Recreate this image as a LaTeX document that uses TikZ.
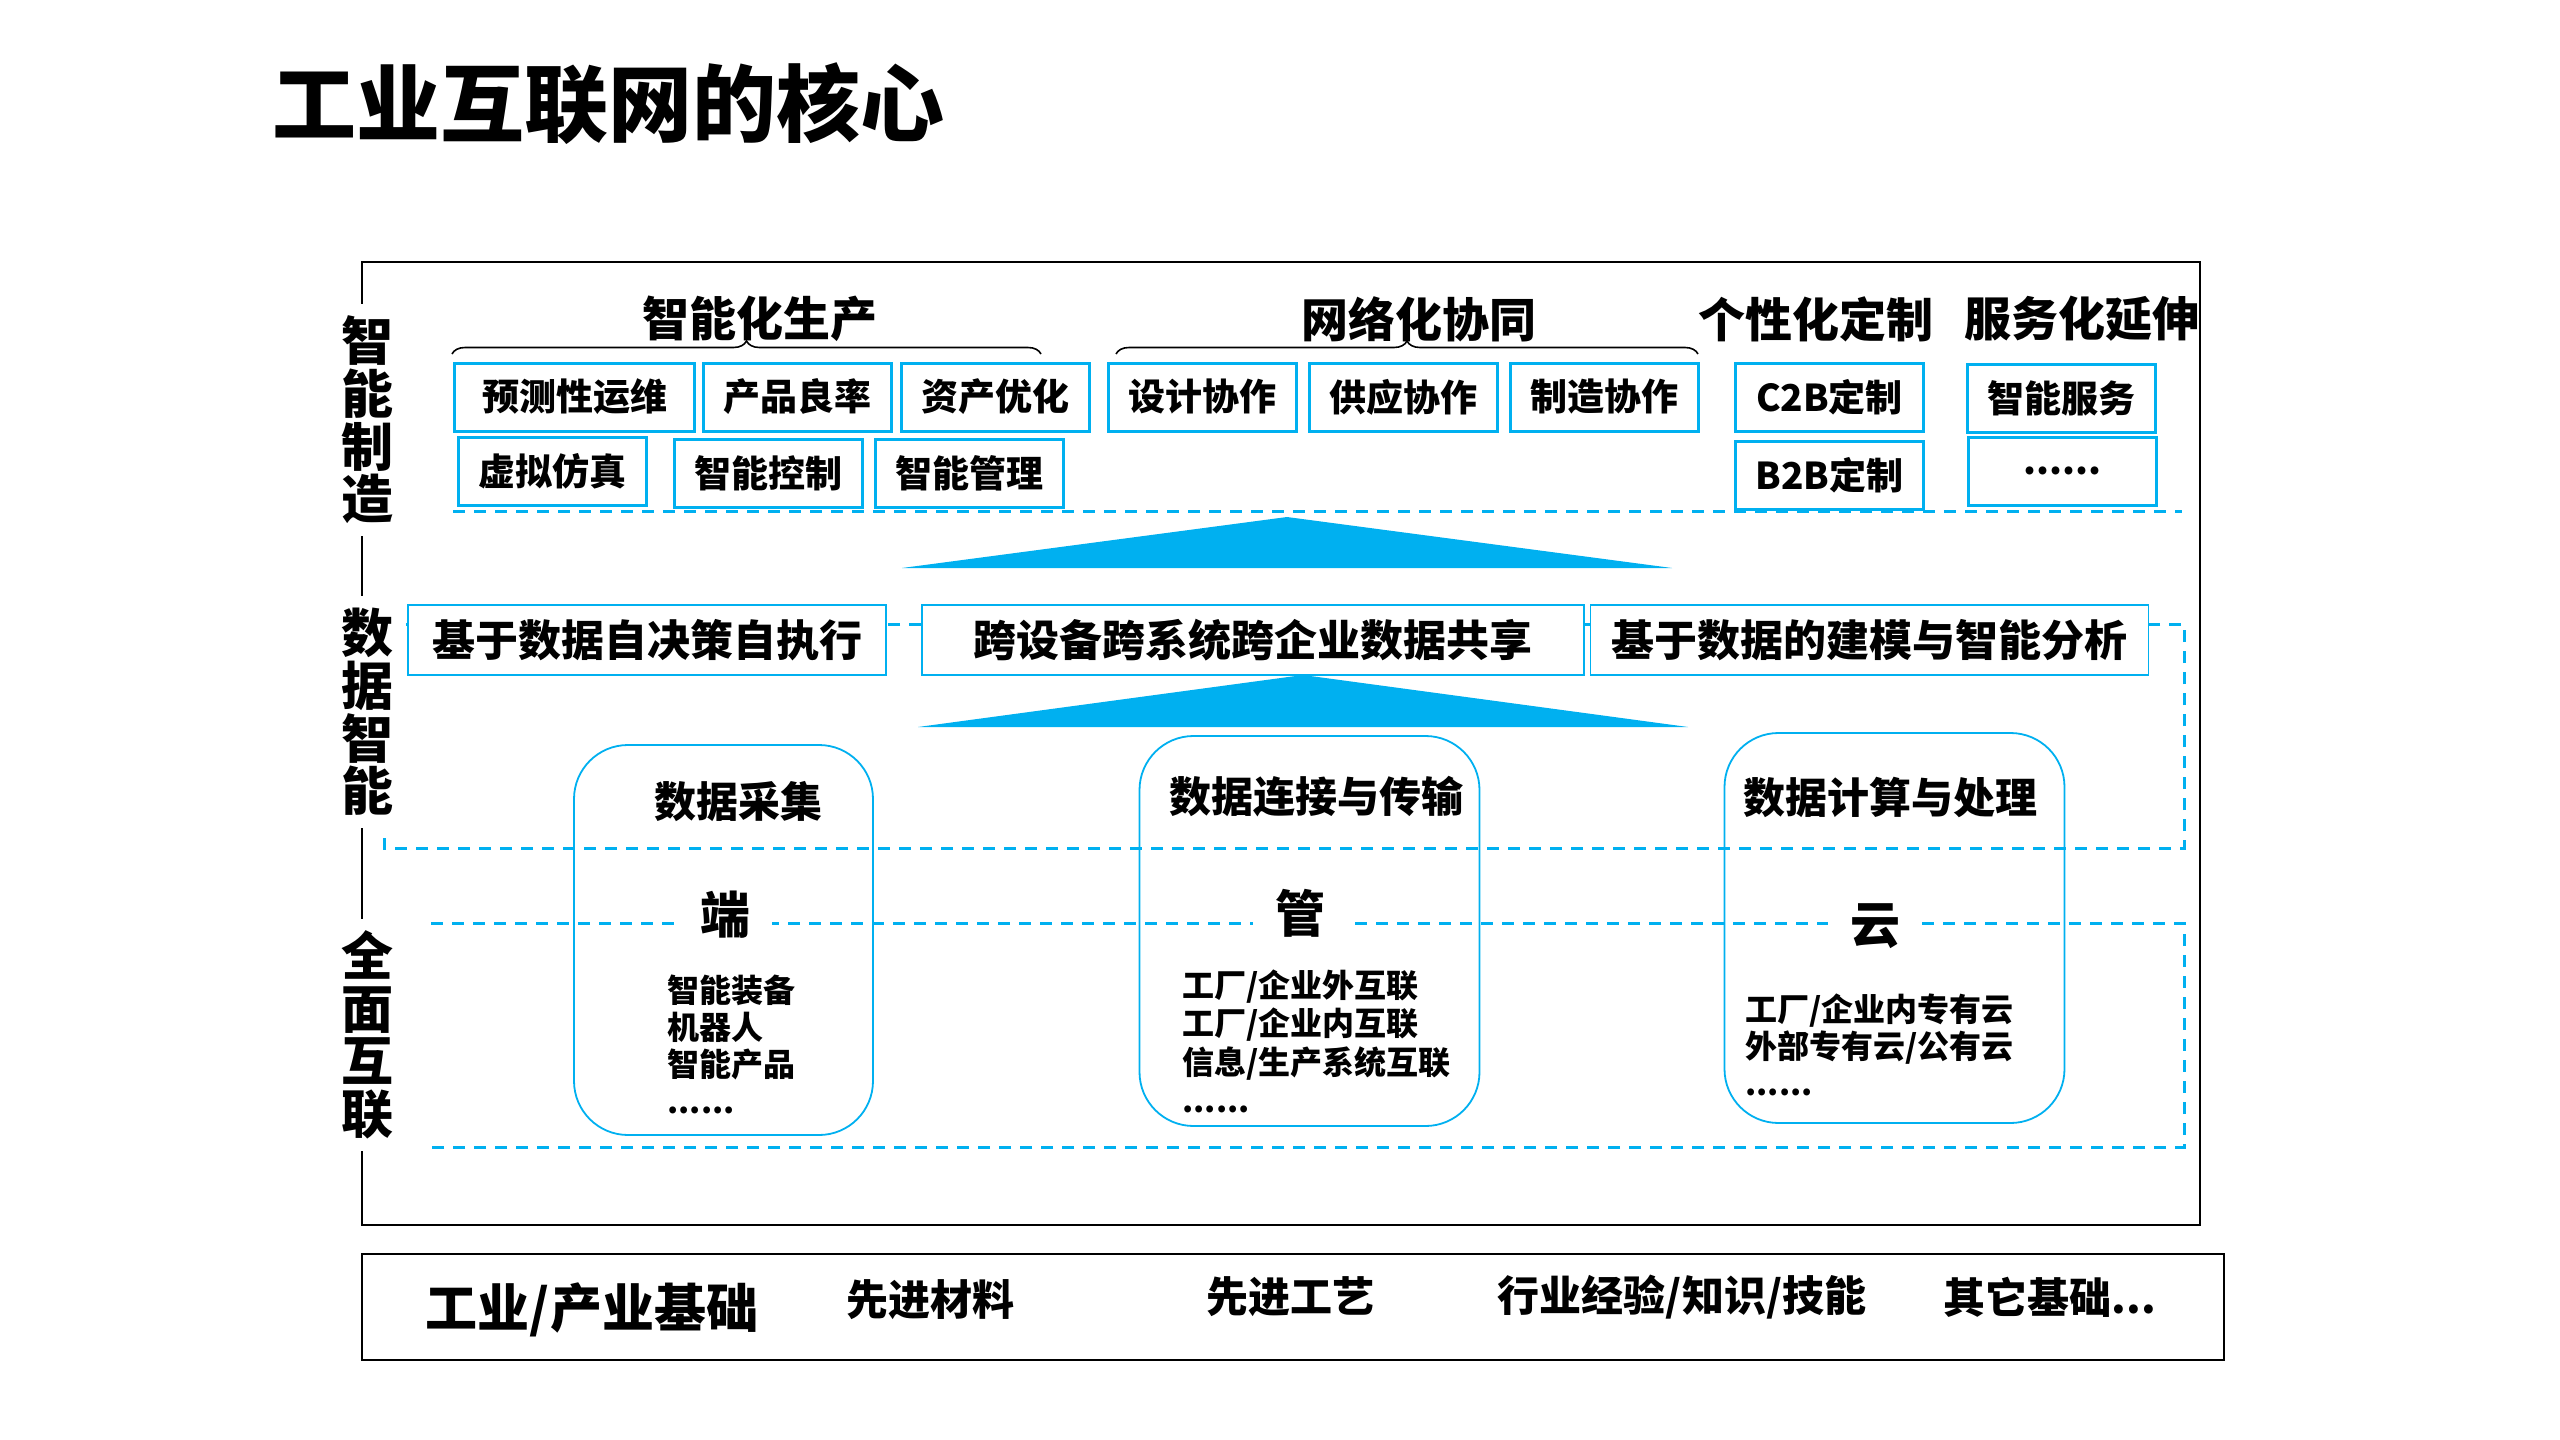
\documentclass[tikz,border=0pt]{standalone}
\usepackage{fontspec}
\setmainfont{Noto Sans CJK SC}
\usetikzlibrary{positioning,decorations.pathreplacing}
\definecolor{skyblue}{RGB}{0,176,240}

\begin{document}
\begin{tikzpicture}[x=0.5pt, y=-0.5pt]
            \tikzstyle{item} = [rectangle, draw=skyblue, line width=1.5pt, fill=white, minimum width=94pt, minimum height=34pt, inner sep=0pt, font=\bfseries\fontsize{18.5}{20}\selectfont]
            \tikzstyle{share} = [rectangle, draw=skyblue, line width=0.8pt, fill=white, minimum height=35pt, inner sep=0pt, font=\bfseries\fontsize{21.5}{23}\selectfont]
            \tikzstyle{pillar} = [rectangle, rounded corners=27pt, draw=skyblue, line width=0.9pt, minimum width=170pt, minimum height=195pt]
            \tikzstyle{layer} = [draw=skyblue, line width=1.5pt, dash pattern=on 6pt off 4.5pt]
            \tikzstyle{head} = [font=\bfseries\fontsize{23.5}{25}\selectfont]
            \tikzstyle{ptitle} = [font=\bfseries\fontsize{21}{23}\selectfont]
            \tikzstyle{side} = [fill=white, inner sep=6pt, align=center, font=\bfseries\fontsize{26}{26.3}\selectfont]
            \tikzstyle{tier} = [fill=white, inner xsep=11pt, inner ysep=1pt, font=\bfseries\fontsize{25}{26}\selectfont]
            \tikzstyle{list} = [align=left, inner sep=0pt, anchor=north west, font=\bfseries\fontsize{16}{18.5}\selectfont]
            \tikzstyle{base} = [font=\bfseries\fontsize{21}{23}\selectfont]
            \tikzstyle{brace} = [decorate, decoration={brace, amplitude=6.5pt}, line width=0.8pt]

            \fill[white] (0,0) rectangle (2560,1440);

            % title
            \node[font=\bfseries\fontsize{42}{44}\selectfont] (title) at (608,104) {工业互联网的核心};

            % frame and layers
            \draw[line width=1.3pt] (362,262) rectangle (2200,1225);
            \draw[layer] (453,511) -- (2182,511);
            \draw[layer] (384,838) -- (384,848) -- (2184,848) -- (2184,624) -- (406,624);
            \draw[layer] (431,923) -- (2184,923) -- (2184,1147) -- (431,1147);

            \fill[skyblue] (902,568) -- (1287,517) -- (1672,568) -- cycle;
            \fill[skyblue] (918,727) -- (1303,675) -- (1688,727) -- cycle;

            % smart manufacturing
            \node[head] (production) at (760,319) {智能化生产};
            \node[head] (network) at (1419,319) {网络化协同};
            \node[head] (custom) at (1816,319) {个性化定制};
            \node[head] (extend) at (2082,319) {服务化延伸};
            \draw[brace] (452,354) -- (1041,354);
            \draw[brace] (1116,354) -- (1698,354);

            \node[item, minimum width=120pt] (predict) at (574.5,397) {预测性运维};
            \node[item, right=3pt of predict] (yield) {产品良率};
            \node[item, right=3.5pt of yield] (asset) {资产优化};
            \node[item] (design) at (1202.5,397) {设计协作};
            \node[item, right=5pt of design] (supply) {供应协作};
            \node[item, right=5pt of supply] (make) {制造协作};
            \node[item] (ctob) at (1829.5,397) {C2B定制};
            \node[item] (service) at (2061,398) {智能服务};
            \node[item] (simulate) at (552,471.5) {虚拟仿真};
            \node[item] (control) at (768,473) {智能控制};
            \node[item, right=5pt of control] (manage) {智能管理};
            \node[item, below=3.5pt of ctob] (btob) {B2B定制};
            \node[item] (more) at (2062.5,471) {......};

            % data intelligence
            \node[share, minimum width=239pt] (decide) at (647,640) {基于数据自决策自执行};
            \node[share, minimum width=331pt] (sharing) at (1253,640) {跨设备跨系统跨企业数据共享};
            \node[share, minimum width=279pt] (model) at (1869.5,640) {基于数据的建模与智能分析};

            % interconnection
            \node[pillar, minimum width=149.5pt] (collect) at (723.5,940) {};
            \node[pillar] (transfer) at (1309.5,931) {};
            \node[pillar] (compute) at (1894.5,928) {};
            \node[ptitle] (collecttitle) at (738,802) {数据采集};
            \node[ptitle] (transfertitle) at (1316,797) {数据连接与传输};
            \node[ptitle] (computetitle) at (1890,797) {数据计算与处理};
            \node[tier] (edge) at (725,915) {端};
            \node[tier] (pipe) at (1300,913) {管};
            \node[tier] (cloud) at (1875,926) {云};
            \node[list] (devices) at (667,974) {智能装备\\机器人\\智能产品\\......};
            \node[list, font=\bfseries\fontsize{16}{19.3}\selectfont] (links) at (1182,969) {工厂/企业外互联\\工厂/企业内互联\\信息/生产系统互联\\......};
            \node[list] (clouds) at (1745,993) {工厂/企业内专有云\\外部专有云/公有云\\......};

            % side labels
            \node[side] (smartmfg) at (367,420) {智\\能\\制\\造};
            \node[side] (dataintel) at (367,712) {数\\据\\智\\能};
            \node[side] (connect) at (367,1035) {全\\面\\互\\联};

            % foundation
            \node[draw, line width=1.4pt, minimum width=931pt, minimum height=53pt] (foundation) at (1293,1307) {};
            \node[font=\bfseries\fontsize{26}{28}\selectfont] (industry) at (592,1310) {工业/产业基础};
            \node[base] (material) at (930,1300) {先进材料};
            \node[base] (process) at (1290,1297) {先进工艺};
            \node[base] (experience) at (1682,1297) {行业经验/知识/技能};
            \node[base] (others) at (2050,1297) {其它基础...};
        \end{tikzpicture}
\end{document}
